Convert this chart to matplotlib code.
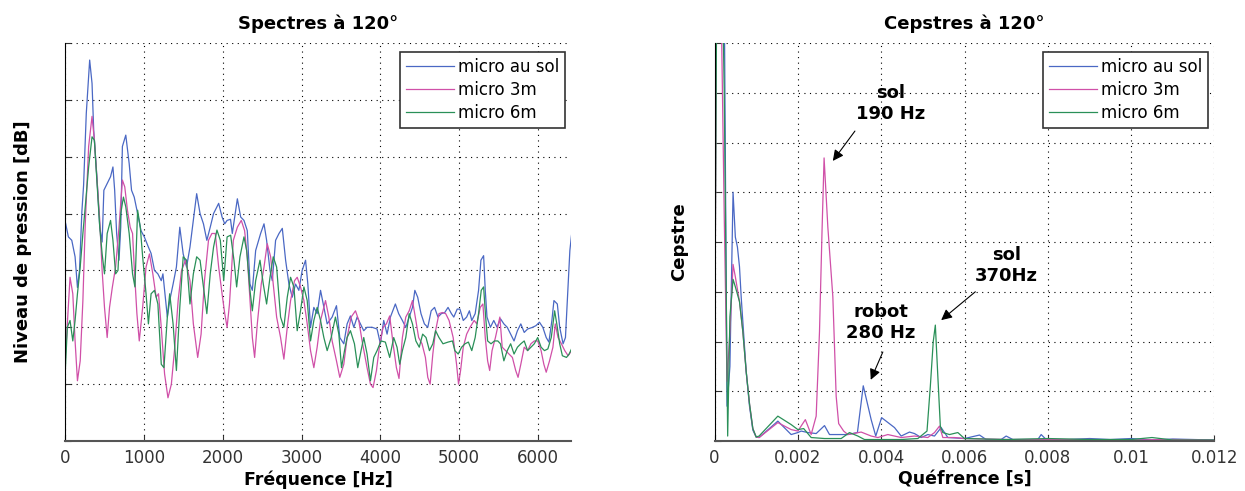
import numpy as np
import matplotlib
matplotlib.use('Agg')
import matplotlib.pyplot as plt

plt.rcParams['font.family'] = ['DejaVu Sans']

# ---- spectres (frequence Hz, niveau en unites de 10 dB) ----
spec_sol = [(0, 3.88), (43, 3.59), (86, 3.53), (128, 3.24), (158, 2.7), (184, 3.0), (214, 4.03), (236, 4.5),
            (270, 5.76), (313, 6.7), (343, 6.29), (364, 5.47), (407, 4.59), (441, 3.76), (471, 3.5), (493, 4.41),
            (535, 4.53), (578, 4.65), (608, 4.82), (630, 4.41), (655, 3.65), (685, 3.18), (707, 3.76), (728, 5.18),
            (771, 5.38), (814, 4.88), (844, 4.41), (878, 4.29), (921, 4.0), (964, 3.7), (1006, 3.59), (1058, 3.41),
            (1092, 3.3), (1135, 3.0), (1178, 2.94), (1221, 2.82), (1242, 2.94), (1272, 2.53), (1298, 2.18),
            (1328, 2.47), (1371, 2.76), (1413, 3.06), (1456, 3.76), (1499, 3.29), (1542, 3.06), (1585, 3.41),
            (1628, 3.88), (1670, 4.35), (1713, 4.0), (1756, 3.82), (1799, 3.53), (1842, 3.76), (1884, 4.0),
            (1949, 4.18), (1992, 3.94), (2026, 3.82), (2056, 3.88), (2099, 3.9), (2122, 3.65), (2186, 4.26),
            (2228, 3.94), (2270, 3.88), (2312, 3.7), (2346, 2.76), (2376, 2.65), (2418, 3.35), (2481, 3.65),
            (2524, 3.82), (2557, 3.53), (2600, 3.0), (2629, 2.82), (2671, 3.53), (2714, 3.65), (2756, 3.74),
            (2798, 3.18), (2840, 2.76), (2882, 2.53), (2924, 2.76), (2966, 2.65), (3008, 3.0), (3051, 3.18),
            (3080, 2.76), (3114, 2.0), (3156, 2.35), (3198, 2.24), (3241, 2.65), (3283, 2.35), (3325, 2.06),
            (3388, 2.18), (3443, 2.38), (3485, 1.82), (3536, 1.71), (3578, 2.06), (3620, 2.2), (3663, 2.0),
            (3705, 2.18), (3747, 2.06), (3789, 1.94), (3831, 2.0), (3895, 2.0), (3958, 1.97), (4000, 1.71),
            (4042, 2.12), (4085, 1.88), (4127, 2.18), (4190, 2.41), (4232, 2.24), (4279, 2.12), (4322, 2.0),
            (4365, 2.18), (4407, 2.35), (4437, 2.65), (4473, 2.53), (4515, 2.24), (4558, 2.06), (4601, 2.0),
            (4644, 2.29), (4687, 2.35), (4730, 2.18), (4773, 2.24), (4816, 2.26), (4858, 2.35), (4901, 2.24),
            (4931, 2.18), (4974, 2.32), (5009, 2.32), (5051, 2.12), (5094, 2.18), (5129, 2.29), (5159, 2.12),
            (5202, 2.24), (5245, 2.65), (5275, 3.18), (5309, 3.26), (5330, 2.65), (5352, 2.18), (5395, 2.0),
            (5438, 2.12), (5480, 2.0), (5523, 2.15), (5566, 2.06), (5609, 2.0), (5652, 1.88), (5695, 1.76),
            (5738, 1.94), (5781, 2.06), (5824, 1.91), (5867, 1.97), (5931, 2.0), (5974, 2.03), (6017, 2.09),
            (6060, 2.0), (6103, 1.82), (6137, 1.74), (6175, 2.12), (6201, 2.47), (6244, 2.41), (6274, 2.0),
            (6317, 1.71), (6347, 1.82), (6381, 2.76), (6403, 3.35), (6424, 3.62)]

spec_3m = [(0, 1.35), (30, 2.06), (64, 2.88), (99, 2.59), (128, 1.76), (158, 1.06), (193, 1.41), (227, 2.47),
           (257, 3.82), (300, 5.18), (343, 5.71), (373, 5.29), (407, 4.59), (441, 3.88), (471, 3.0), (501, 2.35),
           (535, 1.82), (565, 2.35), (600, 2.7), (642, 3.06), (685, 3.76), (728, 4.59), (758, 4.47), (792, 4.06),
           (827, 3.76), (857, 3.65), (878, 3.06), (912, 2.24), (942, 1.76), (985, 2.35), (1028, 3.06), (1071, 3.29),
           (1114, 2.94), (1156, 2.53), (1186, 2.59), (1221, 2.0), (1263, 1.18), (1306, 0.76), (1349, 1.0),
           (1392, 1.65), (1435, 2.47), (1478, 3.0), (1529, 3.18), (1585, 2.82), (1628, 2.06), (1683, 1.47),
           (1726, 1.88), (1769, 2.82), (1820, 3.53), (1863, 3.65), (1906, 3.65), (1949, 3.06), (1992, 2.59),
           (2026, 2.24), (2056, 2.0), (2086, 2.41), (2101, 2.76), (2135, 3.53), (2186, 3.76), (2236, 3.88),
           (2278, 3.7), (2312, 3.24), (2346, 2.47), (2376, 1.82), (2405, 1.47), (2439, 2.06), (2489, 2.76),
           (2524, 3.06), (2565, 3.47), (2608, 3.24), (2641, 2.76), (2684, 2.18), (2734, 1.82), (2776, 1.44),
           (2819, 2.0), (2861, 2.47), (2911, 2.82), (2945, 2.88), (2987, 2.71), (3030, 2.47), (3072, 2.06),
           (3114, 1.59), (3156, 1.29), (3198, 1.65), (3241, 2.12), (3304, 2.47), (3346, 2.18), (3388, 1.76),
           (3443, 1.41), (3485, 1.12), (3536, 1.35), (3578, 1.82), (3629, 2.18), (3684, 2.29), (3726, 2.12),
           (3768, 1.76), (3831, 1.29), (3874, 1.0), (3907, 0.94), (3950, 1.24), (3992, 1.71), (4034, 2.0),
           (4076, 2.06), (4118, 2.2), (4161, 1.71), (4203, 1.29), (4236, 1.1), (4279, 1.82), (4322, 2.18),
           (4365, 2.29), (4407, 2.47), (4450, 2.12), (4485, 1.82), (4528, 1.71), (4571, 1.47), (4601, 1.12),
           (4631, 1.0), (4665, 1.53), (4700, 1.94), (4743, 2.24), (4786, 2.26), (4828, 2.24), (4871, 2.12),
           (4923, 1.82), (4966, 1.35), (4991, 1.0), (5017, 1.24), (5051, 1.65), (5094, 1.88), (5137, 2.0),
           (5189, 2.12), (5223, 2.06), (5266, 2.35), (5300, 2.41), (5330, 1.82), (5360, 1.41), (5386, 1.24),
           (5416, 1.59), (5459, 1.82), (5515, 2.18), (5545, 1.65), (5588, 1.59), (5631, 1.53), (5674, 1.47),
           (5716, 1.24), (5746, 1.12), (5781, 1.35), (5824, 1.65), (5867, 1.59), (5909, 1.71), (5952, 1.76),
           (5995, 1.76), (6038, 1.59), (6073, 1.35), (6103, 1.21), (6145, 1.41), (6188, 1.65), (6218, 2.06),
           (6253, 1.82), (6296, 1.71), (6338, 1.59), (6381, 1.5), (6424, 1.59)]

spec_6m = [(0, 1.12), (30, 2.0), (64, 2.12), (99, 1.76), (128, 2.12), (158, 2.59), (193, 3.06), (227, 3.65),
           (257, 4.12), (300, 4.82), (343, 5.35), (373, 5.29), (407, 4.53), (441, 3.76), (471, 3.29), (501, 2.94),
           (535, 3.65), (578, 3.88), (608, 3.53), (642, 2.94), (672, 3.0), (707, 4.0), (741, 4.29), (771, 4.12),
           (814, 3.65), (857, 2.94), (887, 2.71), (921, 4.06), (955, 3.76), (985, 3.24), (1028, 2.59), (1058, 2.06),
           (1092, 2.59), (1135, 2.65), (1178, 2.41), (1221, 1.35), (1255, 1.29), (1298, 2.18), (1328, 2.59),
           (1371, 2.06), (1413, 1.24), (1456, 2.35), (1499, 3.24), (1542, 3.18), (1585, 2.41), (1628, 2.94),
           (1670, 3.24), (1713, 3.18), (1756, 2.71), (1799, 2.24), (1842, 2.94), (1884, 3.41), (1927, 3.71),
           (1970, 3.53), (2013, 2.82), (2056, 3.59), (2101, 3.62), (2143, 3.18), (2177, 2.71), (2219, 3.24),
           (2270, 3.59), (2304, 3.35), (2346, 2.65), (2376, 2.29), (2418, 2.82), (2473, 3.18), (2515, 2.76),
           (2557, 2.41), (2600, 2.88), (2641, 3.24), (2684, 3.06), (2734, 2.18), (2776, 2.0), (2819, 2.53),
           (2861, 2.88), (2903, 2.71), (2945, 1.94), (2987, 2.29), (3030, 2.71), (3072, 2.47), (3114, 1.76),
           (3156, 2.12), (3198, 2.35), (3241, 2.12), (3283, 1.82), (3325, 1.59), (3376, 1.82), (3430, 2.18),
           (3473, 1.88), (3507, 1.29), (3545, 1.59), (3578, 1.82), (3620, 1.94), (3671, 1.71), (3713, 1.29),
           (3755, 1.59), (3789, 1.82), (3831, 1.53), (3874, 1.06), (3916, 1.47), (3958, 1.59), (4008, 1.76),
           (4063, 1.74), (4118, 1.47), (4169, 1.82), (4211, 1.65), (4245, 1.35), (4279, 1.59), (4322, 1.82),
           (4365, 2.24), (4407, 2.06), (4450, 1.76), (4493, 1.65), (4536, 1.88), (4579, 1.82), (4622, 1.59),
           (4665, 1.71), (4700, 1.94), (4743, 1.82), (4794, 1.71), (4858, 1.74), (4914, 1.76), (4944, 1.59),
           (4987, 1.53), (5030, 1.65), (5073, 1.71), (5116, 1.74), (5159, 1.59), (5202, 1.82), (5245, 2.24),
           (5279, 2.65), (5309, 2.71), (5335, 2.18), (5360, 1.76), (5403, 1.71), (5446, 1.76), (5489, 1.76),
           (5523, 1.71), (5566, 1.41), (5609, 1.59), (5652, 1.71), (5695, 1.53), (5738, 1.65), (5781, 1.71),
           (5824, 1.76), (5867, 1.59), (5909, 1.65), (5952, 1.71), (5995, 1.82), (6038, 1.65), (6081, 1.59),
           (6124, 1.62), (6167, 1.82), (6210, 2.29), (6244, 2.0), (6274, 1.71), (6308, 1.5), (6360, 1.47),
           (6394, 1.53), (6424, 1.62)]

# ---- cepstres (quefrence ms, amplitude) ----
cep_sol = [(0, 4.0), (0.078, 14), (0.156, 12), (0.234, 9), (0.3, 0.7), (0.37, 1.5), (0.445, 5.0), (0.5, 4.1),
           (0.55, 3.9), (0.6, 3.5), (0.64, 2.9), (0.68, 2.4), (0.76, 1.4), (0.84, 0.7), (0.92, 0.22), (1.0, 0.08),
           (1.07, 0.07), (1.52, 0.4), (1.84, 0.13), (2.0, 0.17), (2.08, 0.2), (2.24, 0.17), (2.44, 0.15),
           (2.64, 0.31), (2.76, 0.13), (2.96, 0.13), (3.2, 0.13), (3.43, 0.17), (3.57, 1.11), (3.76, 0.43),
           (3.87, 0.1), (4.01, 0.47), (4.32, 0.27), (4.48, 0.1), (4.68, 0.18), (4.8, 0.15), (4.96, 0.07),
           (5.12, 0.13), (5.28, 0.1), (5.44, 0.27), (5.6, 0.07), (6.0, 0.05), (6.36, 0.12), (6.52, 0.03),
           (6.88, 0.03), (7.0, 0.1), (7.16, 0.03), (7.76, 0.03), (7.84, 0.13), (7.96, 0.03), (8.5, 0.03),
           (9.0, 0.05), (9.5, 0.03), (10.0, 0.05), (10.5, 0.02), (11.0, 0.04), (12.0, 0.02)]

cep_3m = [(0, 0.8), (0.078, 13), (0.156, 9), (0.234, 4.5), (0.3, 1.2), (0.37, 2.2), (0.445, 3.55), (0.5, 3.3),
          (0.6, 2.8), (0.68, 2.2), (0.76, 1.4), (0.84, 0.75), (0.92, 0.25), (1.0, 0.08), (1.07, 0.07), (1.52, 0.37),
          (1.84, 0.23), (2.0, 0.2), (2.18, 0.43), (2.32, 0.13), (2.44, 0.5), (2.52, 2.2), (2.58, 4.2), (2.63, 5.69),
          (2.72, 4.3), (2.84, 2.9), (2.92, 0.9), (2.98, 0.35), (3.1, 0.2), (3.2, 0.13), (3.52, 0.18), (3.76, 0.1),
          (3.92, 0.07), (4.16, 0.13), (4.48, 0.07), (4.8, 0.1), (5.12, 0.07), (5.28, 0.17), (5.4, 0.3),
          (5.48, 0.07), (5.76, 0.07), (6.0, 0.05), (7.0, 0.03), (8.0, 0.03), (9.0, 0.03), (10.0, 0.02),
          (11.0, 0.03), (12.0, 0.02)]

cep_6m = [(0, 0.9), (0.078, 13), (0.156, 11), (0.234, 7), (0.316, 0.1), (0.37, 2.5), (0.445, 3.25), (0.5, 3.1),
          (0.6, 2.8), (0.68, 2.2), (0.76, 1.4), (0.84, 0.75), (0.92, 0.25), (1.0, 0.08), (1.07, 0.1), (1.52, 0.5),
          (1.84, 0.33), (2.0, 0.23), (2.14, 0.25), (2.32, 0.07), (2.64, 0.05), (3.04, 0.05), (3.24, 0.17),
          (3.44, 0.1), (3.6, 0.03), (4.0, 0.03), (4.48, 0.03), (4.88, 0.05), (5.1, 0.2), (5.18, 1.1), (5.25, 2.0),
          (5.3, 2.33), (5.36, 1.3), (5.42, 0.3), (5.48, 0.17), (5.64, 0.13), (5.84, 0.17), (6.0, 0.05),
          (7.0, 0.03), (8.0, 0.05), (9.0, 0.03), (10.0, 0.03), (10.5, 0.07), (11.0, 0.02), (12.0, 0.02)]

labels = ['micro au sol', 'micro 3m', 'micro 6m']
colors = ['#4a68c4', '#d050a8', '#2a9058']
freq_ticks = [0, 1000, 2000, 3000, 4000, 5000, 6000]
quef_ticks = [0, 0.002, 0.004, 0.006, 0.008, 0.01, 0.012]
quef_ticklabels = ['0', '0.002', '0.004', '0.006', '0.008', '0.01', '0.012']

# pics annotes : (texte, position texte ms/ampl, queue fleche, pointe fleche)
annots = [('sol\n190 Hz', (4.23, 6.79), (3.37, 6.23), (2.84, 5.63)),
          ('robot\n280 Hz', (3.99, 2.39), (4.04, 1.79), (3.75, 1.23)),
          ('sol\n370Hz', (7.0, 3.53), (6.26, 3.0), (5.44, 2.43))]

fig = plt.figure(figsize=(12.45, 4.91), dpi=100)
ax1 = fig.add_axes([0.0522, 0.1018, 0.4066, 0.8106])
ax2 = fig.add_axes([0.5739, 0.1018, 0.4016, 0.8106])

for data, lab, c in zip([spec_sol, spec_3m, spec_6m], labels, colors):
    f, v = zip(*data)
    ax1.plot(f, v, color=c, lw=0.9, label=lab)

for data, lab, c in zip([cep_sol, cep_3m, cep_6m], labels, colors):
    q, v = zip(*data)
    ax2.plot(np.array(q) / 1000.0, v, color=c, lw=0.9, label=lab)

ax1.set_xlim(0, 6420)
ax1.set_ylim(0, 7)
ax1.set_xticks(freq_ticks)
ax1.set_yticks(range(8))
ax2.set_xlim(0, 0.012)
ax2.set_ylim(0, 8)
ax2.set_xticks(quef_ticks)
ax2.set_xticklabels(quef_ticklabels)
ax2.set_yticks(range(9))

for ax in (ax1, ax2):
    ax.set_yticklabels([])
    ax.grid(True, color='black', linestyle=(0, (1, 4)), linewidth=0.8)
    ax.spines['top'].set_visible(False)
    ax.spines['right'].set_visible(False)
    ax.spines['left'].set_color('black')
    ax.spines['bottom'].set_color('#555555')
    ax.spines['bottom'].set_linewidth(1.5)
    ax.tick_params(direction='in', length=4, labelsize=12, colors='#333333', pad=6)
    leg = ax.legend(loc='upper right', bbox_to_anchor=(0.988, 0.977), borderaxespad=0, fontsize=12,
                    handlelength=2.9, labelspacing=0.3, fancybox=False, framealpha=1, borderpad=0.35,
                    handletextpad=0.25)
    leg.get_frame().set_edgecolor('#333333')
    leg.get_frame().set_linewidth(1.2)

ax1.set_title('Spectres à 120°', fontsize=13, fontweight='bold', pad=10)
ax2.set_title('Cepstres à 120°', fontsize=13, fontweight='bold', pad=10)
ax1.set_xlabel('Fréquence [Hz]', fontsize=12.5, fontweight='bold', labelpad=2)
ax1.set_ylabel('Niveau de pression [dB]', fontsize=13, fontweight='bold', labelpad=18)
ax2.set_xlabel('Quéfrence [s]', fontsize=12.5, fontweight='bold', labelpad=2)
ax2.set_ylabel('Cepstre', fontsize=13, fontweight='bold', labelpad=13)

for txt, pos, tail, head in annots:
    ax2.text(pos[0] / 1000.0, pos[1], txt, ha='center', va='center', fontsize=13, fontweight='bold',
             linespacing=1.2)
    ax2.annotate('', xy=(head[0] / 1000.0, head[1]), xytext=(tail[0] / 1000.0, tail[1]),
                 arrowprops=dict(arrowstyle='-|>', color='black', lw=0.8, mutation_scale=16,
                                 shrinkA=0, shrinkB=0))

fig.savefig('out.png', dpi=100)
